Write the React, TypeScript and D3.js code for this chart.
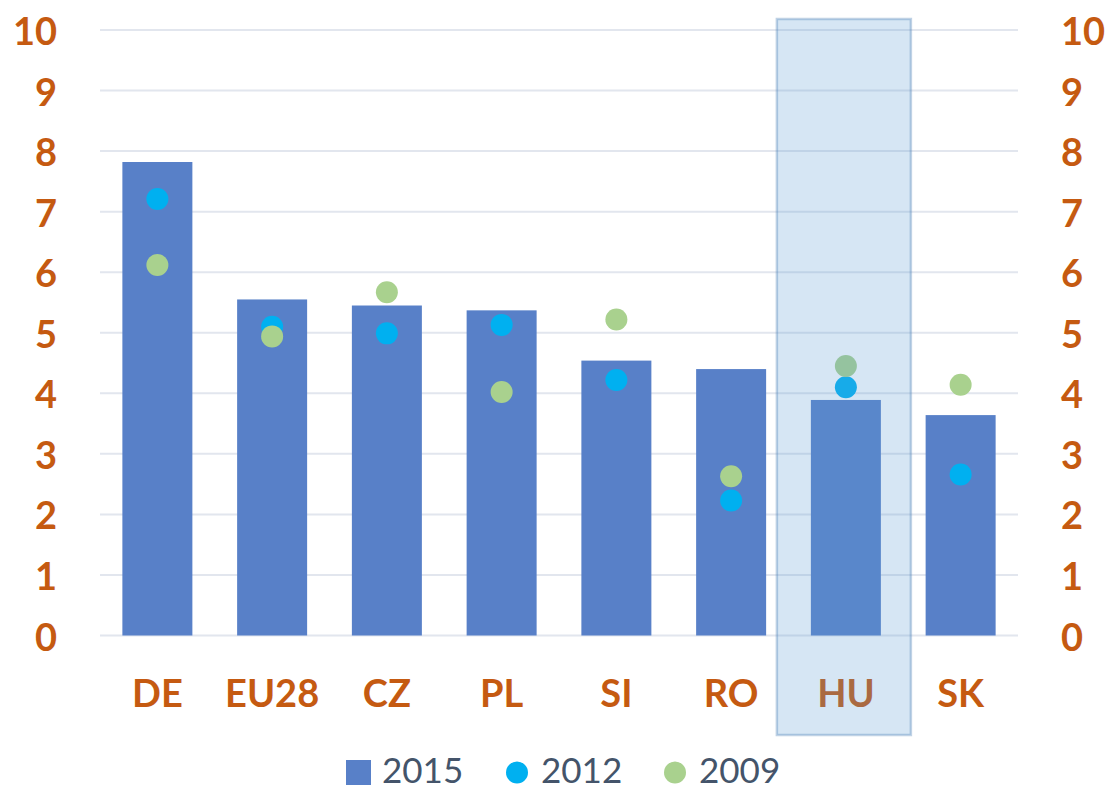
import * as d3 from "d3";
import React from "react";

const categories = ["DE", "EU28", "CZ", "PL", "SI", "RO", "HU", "SK"];
const values2015 = [7.82, 5.55, 5.45, 5.37, 4.54, 4.4, 3.89, 3.64];
const values2012 = [7.21, 5.1, 4.99, 5.13, 4.22, 2.23, 4.1, 2.66];
const values2009 = [6.12, 4.94, 5.67, 4.02, 5.22, 2.63, 4.45, 4.14];
const yTicks = [0, 1, 2, 3, 4, 5, 6, 7, 8, 9, 10];
const highlighted = "HU";

const W = 1108;
const H = 790;
const orange = "#c55a11";
const font = "Lato, 'Open Sans', sans-serif";

const App = () => {
    const x = d3.scaleBand().domain(categories).range([100, 1018]).paddingInner(0.39).paddingOuter(0.195);
    const xc = d3.scaleBand().domain(categories).range([100, 1018]);
    const y = d3.scaleLinear().domain([0, 10]).range([635.5, 30]);

    const cx = (c: string) => xc(c)! + xc.bandwidth() / 2;
    const boxW = 134;

    return (
        <svg width={W} height={H} style={{ position: "absolute", left: 0, top: 0, background: "#fff" }}>
            {/* gridlines */}
            {yTicks.map(t => (
                <line key={t} x1={100} x2={1018} y1={y(t)} y2={y(t)} stroke="#e2e6ee" strokeWidth={2} />
            ))}
            {/* tick labels both sides */}
            {yTicks.map(t => (
                <g key={"l" + t} fontFamily={font} fontWeight={700} fontSize={38} fill={orange}>
                    <text x={57} y={y(t)} textAnchor="end" dominantBaseline="central">{t}</text>
                    <text x={1061} y={y(t)} textAnchor="start" dominantBaseline="central">{t}</text>
                </g>
            ))}
            {/* bars 2015 */}
            {categories.map((c, i) => (
                <rect key={c} x={x(c)} y={y(values2015[i])} width={x.bandwidth()}
                    height={y(0) - y(values2015[i])} fill="#5880c8" />
            ))}
            {/* 2012 dots */}
            {categories.map((c, i) => (
                <circle key={"a" + c} cx={cx(c)} cy={y(values2012[i])} r={11} fill="#00b0f0" />
            ))}
            {/* 2009 dots */}
            {categories.map((c, i) => (
                <circle key={"b" + c} cx={cx(c)} cy={y(values2009[i])} r={11} fill="#a9d18e" />
            ))}
            {/* category labels */}
            {categories.map(c => (
                <text key={"t" + c} x={cx(c)} y={707} textAnchor="middle"
                    fontFamily={font} fontWeight={700} fontSize={38} fill={orange}>{c}</text>
            ))}
            {/* highlight box */}
            <rect x={cx(highlighted) - boxW / 2 - 2} y={19} width={boxW} height={716}
                fill="#5b9bd5" fillOpacity={0.25} stroke="#4a7fb5" strokeOpacity={0.35} strokeWidth={2.5} />
            {/* legend */}
            <g fontFamily={font} fontSize={35} fill="#44546a">
                <rect x={346} y={760} width={25} height={25} fill="#5880c8" />
                <text x={382} y={783}>2015</text>
                <circle cx={517} cy={772.5} r={11} fill="#00b0f0" />
                <text x={541} y={783}>2012</text>
                <circle cx={675} cy={772.5} r={11} fill="#a9d18e" />
                <text x={699} y={783}>2009</text>
            </g>
        </svg>
    );
};

export default App;
